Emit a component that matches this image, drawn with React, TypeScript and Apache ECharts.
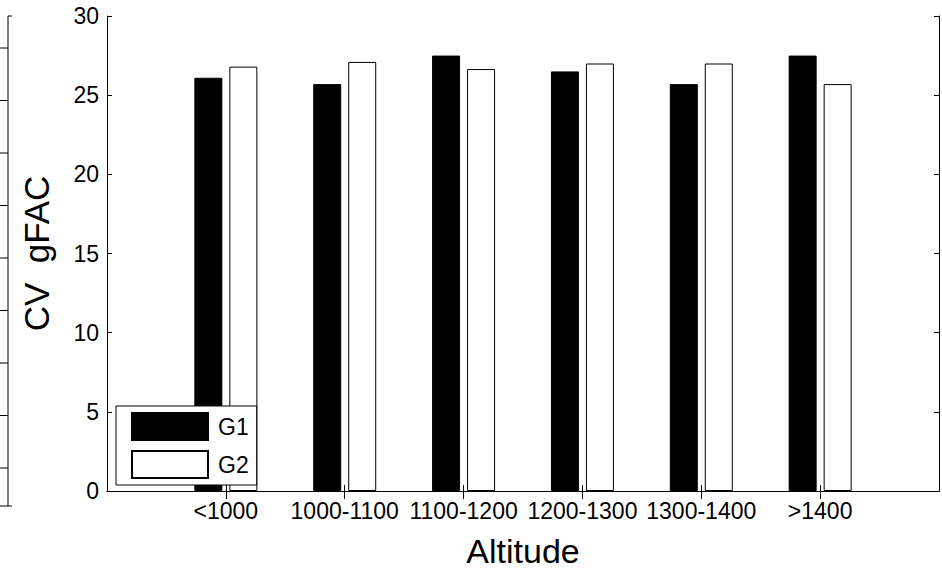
import React, { useEffect, useRef } from "react";
import * as echarts from "echarts";

const categories = ["<1000", "1000-1100", "1100-1200", "1200-1300", "1300-1400", ">1400"];
const g1Values = [26.1, 25.7, 27.5, 26.5, 25.7, 27.5];
const g2Values = [26.8, 27.1, 26.65, 27.0, 27.0, 25.7];
const yTicks = [0, 5, 10, 15, 20, 25, 30];
const seriesNames = ["G1", "G2"];

const FONT = "'Liberation Sans', Arial, Helvetica, sans-serif";

export default function App() {
  const ref = useRef<HTMLDivElement>(null);
  useEffect(() => {
    if (!ref.current) return;
    const chart = echarts.init(ref.current, null, { renderer: "svg" });
    const padded = ["", ...categories, ""];
    const pad = (arr: number[]) => [null, ...arr, null];
    const tickShow = (i: number) => i > 0 && i < padded.length - 1;
    const ghostTicks: any[] = [];
    for (let k = 0; k <= 8; k++) {
      const y = 48 + 52.5 * k;
      ghostTicks.push({ type: "line", shape: { x1: 0, y1: y, x2: 8, y2: y }, style: { stroke: "#000", lineWidth: 1 } });
    }
    chart.setOption({
      animation: false,
      backgroundColor: "#fff",
      textStyle: { fontFamily: FONT },
      grid: { left: 107, right: 3, top: 16, bottom: 86, containLabel: false },
      legend: {
        orient: "vertical",
        left: 116,
        top: 406,
        padding: [6, 8, 6, 15],
        itemWidth: 76,
        itemHeight: 27,
        itemGap: 9,
        borderColor: "#000",
        borderWidth: 1,
        backgroundColor: "#fff",
        icon: "rect",
        data: seriesNames,
        textStyle: { fontSize: 23, lineHeight: 24, color: "#000", fontFamily: FONT, padding: [0, 0, 0, 5] },
      },
      xAxis: [
        {
          type: "category",
          data: padded,
          boundaryGap: false,
          position: "bottom",
          name: "Altitude",
          nameLocation: "middle",
          nameGap: 43,
          nameTextStyle: { fontSize: 34, color: "#000", fontFamily: FONT },
          axisLine: { show: true, lineStyle: { color: "#000", width: 1 } },
          axisTick: { show: true, inside: true, length: 6, interval: (i: number) => tickShow(i), lineStyle: { color: "#000" } },
          axisLabel: { show: true, color: "#000", fontSize: 23, margin: 8, interval: 0, fontFamily: FONT },
          splitLine: { show: false },
        },
        {
          type: "category",
          data: padded,
          boundaryGap: false,
          position: "top",
          axisLine: { show: true, lineStyle: { color: "#000", width: 1 } },
          axisTick: { show: true, inside: true, length: 8, interval: (i: number) => tickShow(i), lineStyle: { color: "#000" } },
          axisLabel: { show: false },
          splitLine: { show: false },
        },
      ],
      yAxis: [
        {
          type: "value",
          min: yTicks[0],
          max: yTicks[yTicks.length - 1],
          interval: 5,
          position: "left",
          name: "CV  gFAC",
          nameLocation: "middle",
          nameGap: 53,
          nameTextStyle: { fontSize: 35, color: "#000", fontFamily: FONT },
          axisLine: { show: true, lineStyle: { color: "#000", width: 1 } },
          axisTick: { show: true, inside: true, length: 5, lineStyle: { color: "#000" } },
          axisLabel: { show: true, color: "#000", fontSize: 23, margin: 8, fontFamily: FONT },
          splitLine: { show: false },
        },
        {
          type: "value",
          min: yTicks[0],
          max: yTicks[yTicks.length - 1],
          interval: 5,
          position: "right",
          axisLine: { show: true, lineStyle: { color: "#000", width: 1 } },
          axisTick: { show: true, inside: true, length: 5, lineStyle: { color: "#000" } },
          axisLabel: { show: false },
          splitLine: { show: false },
        },
      ],
      series: [
        {
          name: seriesNames[0],
          type: "bar",
          xAxisIndex: 0,
          yAxisIndex: 0,
          data: pad(g1Values),
          barWidth: 28,
          barGap: "25%",
          itemStyle: { color: "#000", borderColor: "#000", borderWidth: 1 },
        },
        {
          name: seriesNames[1],
          type: "bar",
          xAxisIndex: 0,
          yAxisIndex: 0,
          data: pad(g2Values),
          barWidth: 28,
          barGap: "25%",
          itemStyle: { color: "#fff", borderColor: "#000", borderWidth: 1 },
        },
      ],
      graphic: [
        { type: "line", shape: { x1: 8, y1: 16, x2: 8, y2: 506 }, style: { stroke: "#000", lineWidth: 1 } },
        { type: "line", shape: { x1: 8, y1: 16, x2: 12, y2: 16 }, style: { stroke: "#000", lineWidth: 1 } },
        { type: "line", shape: { x1: 0, y1: 506, x2: 12, y2: 506 }, style: { stroke: "#000", lineWidth: 1 } },
        ...ghostTicks,
      ],
    });
    return () => chart.dispose();
  }, []);
  return <div ref={ref} style={{ width: 942, height: 577, position: "absolute", left: 0, top: 0 }} />;
}
